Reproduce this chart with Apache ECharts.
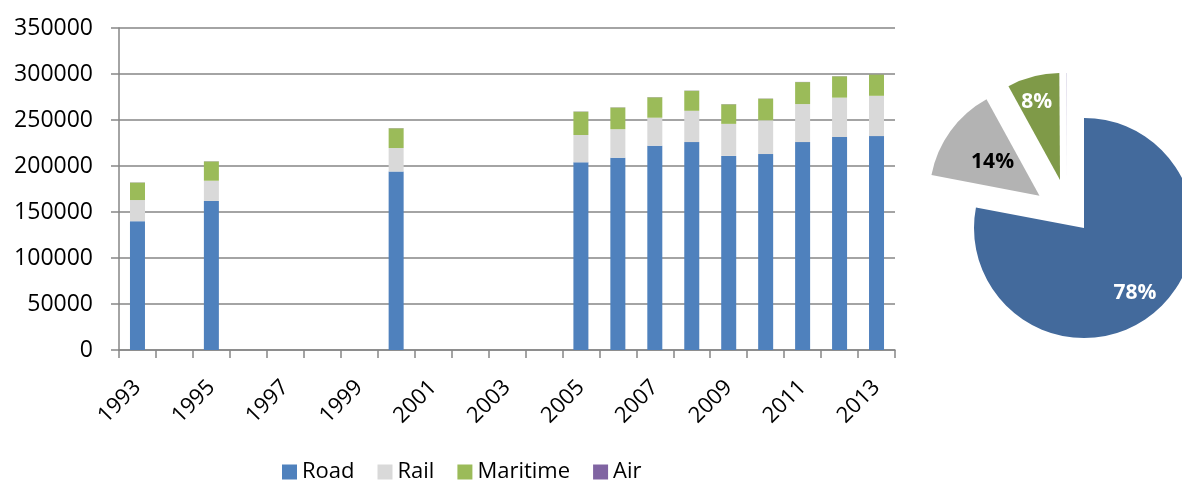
<!DOCTYPE html>
<html><head><meta charset="utf-8">
<script src="https://cdn.jsdelivr.net/npm/echarts@6/dist/echarts.min.js"></script>
<style>html,body{margin:0;padding:0;background:#fff}#c{width:1182px;height:481px}</style>
</head><body><div id="c"></div>
<script>
const years = ['1993','1994','1995','1996','1997','1998','1999','2000','2001','2002','2003','2004','2005','2006','2007','2008','2009','2010','2011','2012','2013'];
const road = [140000,null,162000,null,null,null,null,194000,null,null,null,null,204000,209000,222000,226000,211000,213000,226000,231500,232500];
const rail = [23000,null,22000,null,null,null,null,25500,null,null,null,null,29700,31000,30500,34000,34800,36700,41300,42800,43800];
const maritime = [19000,null,21000,null,null,null,null,21500,null,null,null,null,25400,23600,22200,21800,21300,23500,23900,23200,23200];
const air = [200,null,200,null,null,null,null,200,null,null,null,null,200,200,200,200,200,200,200,200,200];
const yTicks = [0,50000,100000,150000,200000,250000,300000,350000];
const pieNames = ['Road','Rail','Maritime','Air'];
const pieValues = [78,14,7.9,0.1];

const barColors = {Road:'#4F81BD', Rail:'#D9D9D9', Maritime:'#9BBB59', Air:'#8064A2'};
const pieColors = ['#436A9C','#B3B3B3','#7F9A48','#D6D2E4'];
const pieLabelColors = ['#ffffff','#000000','#ffffff','#ffffff'];
const FONT = 'Open Sans';
const CLEAR = 'rgba(0,0,0,0)';

const chart = echarts.init(document.getElementById('c'), null, {renderer:'canvas'});
function barSeries(name, data){
  return {name, type:'bar', stack:'t', data, barWidth:15, itemStyle:{color:barColors[name]}, emphasis:{disabled:true}};
}
// which slices each pie layer draws, where each layer sits, and label nudges (layout only)
function pieLayer(show, center, radius, extra){
  const labelOffsets = {Road:[14,20], Rail:[-15,-13], Maritime:[-9,-23], Air:[0,0]};
  return Object.assign({type:'pie', center, radius, startAngle:90, clockwise:true, silent:true,
    emphasis:{disabled:true}, labelLine:{show:false},
    label:{show:true, position:'inside', fontSize:21, fontWeight:'bold', fontFamily:FONT,
      formatter:p=>Math.round(p.percent)+'%'},
    data: pieNames.map((n,i)=>({name:n, value:pieValues[i],
      selected: (extra && extra.selected) ? extra.selected.includes(n) : false,
      itemStyle:{color: show.includes(n) ? pieColors[i] : CLEAR},
      label:{show: show.includes(n) && n!=='Air', color:pieLabelColors[i], offset:labelOffsets[n]}}))
  }, extra && extra.opts ? extra.opts : {});
}
chart.setOption({
  animation:false,
  textStyle:{fontFamily:FONT},
  legend:{data:['Road','Rail','Maritime','Air'], left:277, top:456, itemWidth:15, itemHeight:15, itemGap:23,
    icon:'rect', textStyle:{fontSize:22, color:'#000', fontFamily:FONT}, selectedMode:false},
  grid:{left:119, right:287, top:28, bottom:131, containLabel:false},
  xAxis:{type:'category', data:years,
    axisLine:{lineStyle:{color:'#868686', width:1.5}},
    axisTick:{show:true, interval:0, length:8, lineStyle:{color:'#868686', width:1.5}},
    axisLabel:{interval:1, rotate:45, fontSize:22, color:'#000', margin:34, fontFamily:FONT}},
  yAxis:{type:'value', min:0, max:350000, interval:50000,
    axisLine:{show:true, lineStyle:{color:'#868686', width:1.5}},
    axisTick:{show:true, length:8, lineStyle:{color:'#868686', width:1.5}},
    splitLine:{lineStyle:{color:'#868686', width:1.5}},
    axisLabel:{fontSize:23, color:'#000', margin:26, fontFamily:FONT, formatter:v=>String(v)}},
  series:[
    barSeries('Road', road), barSeries('Rail', rail), barSeries('Maritime', maritime), barSeries('Air', air),
    pieLayer(['Road','Rail'], [1084,228], 110, {selected:['Rail'], opts:{selectedMode:'multiple', selectedOffset:55}}),
    pieLayer(['Maritime'], [1060,180], 107),
    pieLayer(['Air'], [1067,180], 107)
  ]
});
</script></body></html>
